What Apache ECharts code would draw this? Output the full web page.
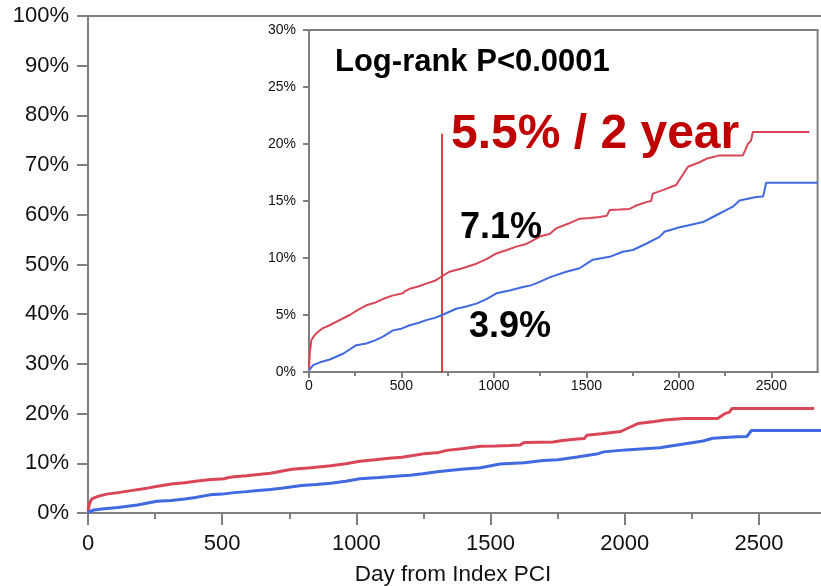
<!DOCTYPE html>
<html>
<head>
<meta charset="utf-8">
<script src="https://cdn.jsdelivr.net/npm/echarts@6/dist/echarts.min.js"></script>
<style>
  html, body { margin: 0; padding: 0; background: #fff; }
  #chart { width: 821px; height: 586px; }
</style>
</head>
<body>
<div id="chart"></div>
<script>
// cumulative incidence (%), [day, percent]
var redDays = [0, 5, 13, 25, 40, 70, 112, 160, 220, 260, 310, 360, 400, 450, 508, 520, 544, 590, 634, 680, 720, 760, 830, 905, 960, 1013, 1070, 1121, 1170, 1211, 1250, 1301, 1337, 1400, 1463, 1520, 1571, 1610, 1625, 1680, 1733, 1769, 1823, 1850, 1859, 1913, 1985, 2013, 2049, 2112, 2148, 2220, 2346, 2360, 2373, 2390, 2400, 2706];
var redVals = [0.3, 1.8, 2.8, 3.1, 3.4, 3.8, 4.1, 4.5, 5.0, 5.4, 5.85, 6.1, 6.4, 6.7, 6.9, 7.1, 7.3, 7.5, 7.75, 8.0, 8.4, 8.8, 9.1, 9.5, 9.9, 10.4, 10.7, 11.0, 11.2, 11.55, 11.9, 12.1, 12.6, 13.0, 13.45, 13.5, 13.6, 13.7, 14.2, 14.25, 14.3, 14.6, 14.9, 15.0, 15.65, 15.95, 16.4, 17.1, 18.0, 18.4, 18.7, 19.0, 19.0, 19.5, 20.0, 20.3, 21.05, 21.05];
var blueDays = [0, 22, 60, 112, 184, 256, 310, 360, 400, 454, 500, 544, 590, 634, 680, 720, 796, 850, 905, 960, 1013, 1085, 1157, 1200, 1247, 1301, 1391, 1463, 1535, 1625, 1697, 1751, 1823, 1895, 1922, 2004, 2060, 2130, 2202, 2292, 2328, 2418, 2455, 2463, 2472, 2750];
var blueVals = [0.15, 0.6, 0.85, 1.1, 1.6, 2.35, 2.5, 2.8, 3.1, 3.65, 3.8, 4.1, 4.3, 4.55, 4.75, 5.0, 5.55, 5.75, 6.0, 6.4, 6.9, 7.15, 7.45, 7.6, 7.9, 8.3, 8.8, 9.1, 9.85, 10.1, 10.55, 10.7, 11.25, 11.85, 12.3, 12.7, 12.9, 13.15, 13.75, 14.5, 15.05, 15.35, 15.4, 15.95, 16.6, 16.6];

var mainYTicks = [0, 10, 20, 30, 40, 50, 60, 70, 80, 90, 100];
var insetYTicks = [0, 5, 10, 15, 20, 25, 30];
var xTicks = [0, 500, 1000, 1500, 2000, 2500];
var xMinorTicks = [250, 750, 1250, 1750, 2250];
var landmarkDay = 720;
var landmarkTop = 20.9;

var RED = '#d84657';
var BLUE = '#4169e0';
var AXIS = '#7f7f7f';
var FONT = 'Helvetica, Arial, "Liberation Sans", sans-serif';

function pairs(days, vals) {
    var out = [];
    for (var i = 0; i < days.length; i++) out.push([days[i], vals[i]]);
    return out;
}

// major axis: line, long ticks and labels
function xMajor(gridIndex, fontSize, tickLen, labelMargin) {
    return {
        type: 'value', gridIndex: gridIndex, position: 'bottom', min: 0, max: 2750,
        axisLine: { show: true, lineStyle: { color: AXIS, width: 2 } },
        axisTick: { show: true, length: tickLen, customValues: xTicks, lineStyle: { color: AXIS, width: 2 } },
        splitLine: { show: false },
        axisLabel: {
            color: '#111', fontSize: fontSize, fontFamily: FONT, margin: labelMargin,
            customValues: xTicks, formatter: function (v) { return String(v); }
        }
    };
}
// minor axis: short ticks only
function xMinor(gridIndex, tickLen) {
    return {
        type: 'value', gridIndex: gridIndex, position: 'bottom', min: 0, max: 2750,
        axisLine: { show: false },
        axisTick: { show: true, length: tickLen, customValues: xMinorTicks, lineStyle: { color: AXIS, width: 2 } },
        splitLine: { show: false },
        axisLabel: { show: false }
    };
}

var chart = echarts.init(document.getElementById('chart'));

var mainX = xMajor(0, 22, 12, 20);
mainX.name = 'Day from Index PCI';
mainX.nameLocation = 'middle';
mainX.nameGap = 50;
mainX.nameTextStyle = { color: '#111', fontSize: 22.5, fontFamily: FONT, padding: [0, 8, 0, 0] };

var option = {
    animation: false,
    backgroundColor: '#fff',
    grid: [
        { left: 88, top: 16, width: 738, height: 497, outerBoundsMode: 'none', containLabel: false, show: true, borderColor: AXIS, borderWidth: 2, backgroundColor: 'transparent' },
        { left: 309, top: 30, width: 508.6, height: 342, outerBoundsMode: 'none', containLabel: false, show: true, borderColor: AXIS, borderWidth: 2, backgroundColor: '#fff', z: 5 }
    ],
    xAxis: [
        mainX,
        xMinor(0, 6),
        xMajor(1, 14, 6, 7),
        xMinor(1, 4)
    ],
    yAxis: [
        {
            type: 'value', gridIndex: 0, min: 0, max: 100, interval: 10,
            axisLine: { show: true, lineStyle: { color: AXIS, width: 2 } },
            axisTick: { show: true, length: 11, lineStyle: { color: AXIS, width: 2 } },
            splitLine: { show: false },
            axisLabel: { color: '#111', fontSize: 22, fontFamily: FONT, margin: 19, formatter: '{value}%', customValues: mainYTicks }
        },
        {
            type: 'value', gridIndex: 1, min: 0, max: 30, interval: 5,
            axisLine: { show: true, lineStyle: { color: AXIS, width: 2 } },
            axisTick: { show: true, length: 6, lineStyle: { color: AXIS, width: 2 } },
            splitLine: { show: false },
            axisLabel: { color: '#111', fontSize: 14, fontFamily: FONT, margin: 13, formatter: '{value}%', customValues: insetYTicks }
        }
    ],
    series: [
        { type: 'line', xAxisIndex: 0, yAxisIndex: 0, showSymbol: false, data: pairs(redDays, redVals), lineStyle: { color: RED, width: 3 }, z: 2 },
        { type: 'line', xAxisIndex: 0, yAxisIndex: 0, showSymbol: false, data: pairs(blueDays, blueVals), lineStyle: { color: BLUE, width: 3 }, z: 2 },
        {
            type: 'line', xAxisIndex: 2, yAxisIndex: 1, showSymbol: false, data: pairs(redDays, redVals), lineStyle: { color: RED, width: 2 }, z: 6,
            markLine: {
                silent: true, symbol: 'none', label: { show: false },
                lineStyle: { color: '#d40000', width: 1.5, type: 'solid' },
                data: [[{ coord: [landmarkDay, 0] }, { coord: [landmarkDay, landmarkTop] }]]
            }
        },
        { type: 'line', xAxisIndex: 2, yAxisIndex: 1, showSymbol: false, data: pairs(blueDays, blueVals), lineStyle: { color: BLUE, width: 2 }, z: 6 }
    ],
    graphic: [
        { type: 'text', x: 335, y: 62, z: 20, style: { text: 'Log-rank P<0.0001', fill: '#000', font: 'bold 31px ' + FONT, verticalAlign: 'middle' } },
        { type: 'text', x: 451, y: 135, z: 20, style: { text: '5.5% / 2 year', fill: '#c00000', font: 'bold 48px ' + FONT, verticalAlign: 'middle' } },
        { type: 'text', x: 460, y: 228, z: 20, style: { text: '7.1%', fill: '#000', font: 'bold 36px ' + FONT, verticalAlign: 'middle' } },
        { type: 'text', x: 469, y: 327, z: 20, style: { text: '3.9%', fill: '#000', font: 'bold 36px ' + FONT, verticalAlign: 'middle' } }
    ]
};
chart.setOption(option);
</script>
</body>
</html>
